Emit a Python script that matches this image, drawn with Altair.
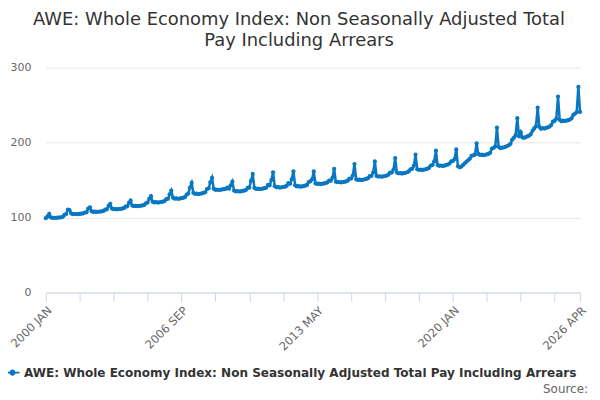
import altair as alt
import pandas as pd

TITLE = ["AWE: Whole Economy Index: Non Seasonally Adjusted Total", "Pay Including Arrears"]
SERIES = "AWE: Whole Economy Index: Non Seasonally Adjusted Total Pay Including Arrears"
MONTHS = ["JAN", "FEB", "MAR", "APR", "MAY", "JUN", "JUL", "AUG", "SEP", "OCT", "NOV", "DEC"]
YEARS = list(range(2000, 2027))

v2000 = [99.2, 101.5, 105.0, 100.2, 99.6, 99.8, 99.7, 99.9, 100.1, 100.3, 101.0, 103.5]
v2001 = [104.8, 110.5, 110.0, 105.5, 104.6, 104.8, 104.5, 104.7, 104.9, 105.2, 105.6, 106.8]
v2002 = [107.0, 112.0, 113.8, 108.5, 107.6, 107.9, 107.5, 107.8, 108.0, 108.3, 108.9, 110.5]
v2003 = [111.0, 115.5, 118.3, 112.0, 111.2, 111.4, 111.0, 111.3, 111.6, 112.0, 112.6, 114.5]
v2004 = [115.0, 119.5, 122.7, 116.0, 115.3, 115.6, 115.2, 115.5, 115.8, 116.2, 116.9, 119.0]
v2005 = [120.0, 125.0, 128.5, 121.0, 120.2, 120.5, 120.1, 120.4, 120.8, 121.2, 122.0, 124.5]
v2006 = [125.0, 131.0, 136.0, 126.5, 125.2, 125.6, 125.0, 125.4, 125.9, 126.4, 127.2, 130.5]
v2007 = [132.0, 140.0, 146.2, 133.0, 131.6, 132.0, 131.4, 131.8, 132.3, 132.9, 133.8, 138.0]
v2008 = [139.0, 147.0, 153.0, 138.5, 137.0, 137.3, 136.8, 137.1, 137.5, 137.9, 138.3, 140.0]
v2009 = [138.5, 143.0, 148.0, 136.0, 135.0, 135.3, 134.8, 135.1, 135.5, 136.0, 136.8, 139.5]
v2010 = [140.0, 149.0, 158.2, 139.5, 138.3, 138.6, 138.0, 138.3, 138.7, 139.2, 140.0, 143.5]
v2011 = [143.0, 150.0, 160.4, 141.8, 140.4, 140.7, 140.1, 140.4, 140.8, 141.3, 142.2, 146.0]
v2012 = [145.0, 151.0, 161.8, 143.0, 141.6, 141.9, 141.3, 141.6, 142.0, 142.6, 143.6, 147.5]
v2013 = [148.4, 151.0, 161.7, 145.5, 145.0, 145.3, 144.7, 145.0, 145.5, 146.0, 147.0, 149.5]
v2014 = [149.0, 153.0, 164.9, 147.8, 147.2, 147.5, 146.8, 147.2, 147.7, 148.3, 149.2, 152.0]
v2015 = [152.0, 156.0, 171.5, 151.0, 150.3, 150.6, 150.0, 150.5, 151.0, 151.6, 152.6, 155.5]
v2016 = [155.5, 160.0, 175.0, 155.5, 154.7, 155.0, 154.5, 155.0, 155.5, 156.1, 157.2, 160.0]
v2017 = [160.0, 164.0, 179.5, 160.0, 159.0, 159.4, 158.8, 159.3, 159.8, 160.5, 161.6, 164.5]
v2018 = [165.0, 169.0, 183.9, 164.5, 163.5, 164.0, 163.4, 163.9, 164.5, 165.2, 166.4, 169.5]
v2019 = [170.0, 175.0, 189.2, 170.0, 169.0, 169.5, 168.8, 169.3, 170.0, 170.8, 172.0, 175.0]
v2020 = [175.5, 178.0, 191.0, 168.5, 167.0, 168.0, 170.0, 172.5, 174.5, 176.5, 178.5, 182.5]
v2021 = [183.0, 184.0, 199.0, 185.0, 183.5, 184.0, 183.3, 183.8, 184.3, 185.0, 186.5, 192.0]
v2022 = [193.0, 195.0, 220.0, 194.5, 192.5, 193.3, 193.5, 194.5, 195.5, 196.5, 198.5, 204.0]
v2023 = [206.5, 210.0, 232.7, 208.5, 214.0, 207.0, 206.5, 207.5, 208.5, 209.5, 211.5, 216.0]
v2024 = [219.0, 222.0, 246.8, 221.0, 218.5, 219.5, 218.8, 219.7, 220.5, 221.5, 223.5, 228.0]
v2025 = [229.0, 232.0, 261.4, 230.5, 228.5, 229.3, 228.8, 229.5, 230.0, 230.8, 232.5, 237.0]
v2026 = [238.8, 240.5, 274.3, 241.0]

VALUES = (v2000 + v2001 + v2002 + v2003 + v2004 + v2005 + v2006 + v2007 + v2008
          + v2009 + v2010 + v2011 + v2012 + v2013 + v2014 + v2015 + v2016 + v2017
          + v2018 + v2019 + v2020 + v2021 + v2022 + v2023 + v2024 + v2025 + v2026)
PERIODS = [f"{y} {m}" for y in YEARS for m in MONTHS][:len(VALUES)]
TICKS = PERIODS[::20] + [PERIODS[-1]]
LABELS = ["2000 JAN", "2006 SEP", "2013 MAY", "2020 JAN", "2026 APR"]
Y_TICKS = [0, 100, 200, 300]

BLUE = "#0a77c2"
FONT = "DejaVu Sans"

df = pd.DataFrame({"period": PERIODS, "value": VALUES, "series": SERIES})

x = alt.X(
    "period:O", sort=None, title=None,
    scale=alt.Scale(type="point", padding=0),
    axis=alt.Axis(
        values=TICKS,
        labelExpr=f"indexof({LABELS}, datum.value) >= 0 ? datum.value : ''",
        labelAngle=-45, labelAlign="right", labelBaseline="top",
        labelOverlap=False, labelPadding=3,
        labelColor="#666666", labelFontSize=11.5, labelFont=FONT,
        domainColor="#ccd6eb", tickColor="#ccd6eb", tickSize=9,
        grid=False,
    ),
)
y = alt.Y(
    "value:Q", title=None,
    scale=alt.Scale(domain=[0, 300], nice=False),
    axis=alt.Axis(
        values=Y_TICKS, grid=True, gridColor="#e6e6e6", domain=False, ticks=False,
        labelPadding=15, labelColor="#666666", labelFontSize=11, labelFont=FONT,
    ),
)
color = alt.Color(
    "series:N",
    scale=alt.Scale(domain=[SERIES], range=[BLUE]),
    legend=alt.Legend(
        title=None, orient="none", legendX=-42, legendY=298,
        symbolType="M-1,0L1,0M-0.3,0a0.3,0.3 0 1,0 0.6,0a0.3,0.3 0 1,0 -0.6,0Z",
        symbolSize=200, symbolStrokeWidth=2,
        labelFont=FONT, labelFontSize=12.1, labelFontWeight="bold",
        labelColor="#333333", labelLimit=1000, labelOffset=3,
    ),
)

base = alt.Chart(df).encode(x=x, y=y, color=color)
line = base.mark_line(strokeWidth=2.5)
pts = base.mark_point(filled=True, size=18, opacity=1)

source = alt.Chart(pd.DataFrame({"t": ["Source:"]})).mark_text(
    align="right", baseline="alphabetic", font=FONT, fontSize=12, color="#666666"
).encode(text="t:N", x=alt.value(545), y=alt.value(327))

chart = alt.layer(line, pts, source).properties(
    width=537, height=226,
    title=alt.TitleParams(
        TITLE, fontSize=18, font=FONT, fontWeight="normal", color="#333333",
        anchor="middle", dx=-14, offset=12, lineHeight=21,
    ),
    autosize=alt.AutoSizeParams(type="none"),
    padding={"left": 38, "top": 59, "right": 12, "bottom": 103},
).configure_view(stroke=None)

chart.save("out.html", embed_options={"renderer": "svg", "actions": False})
